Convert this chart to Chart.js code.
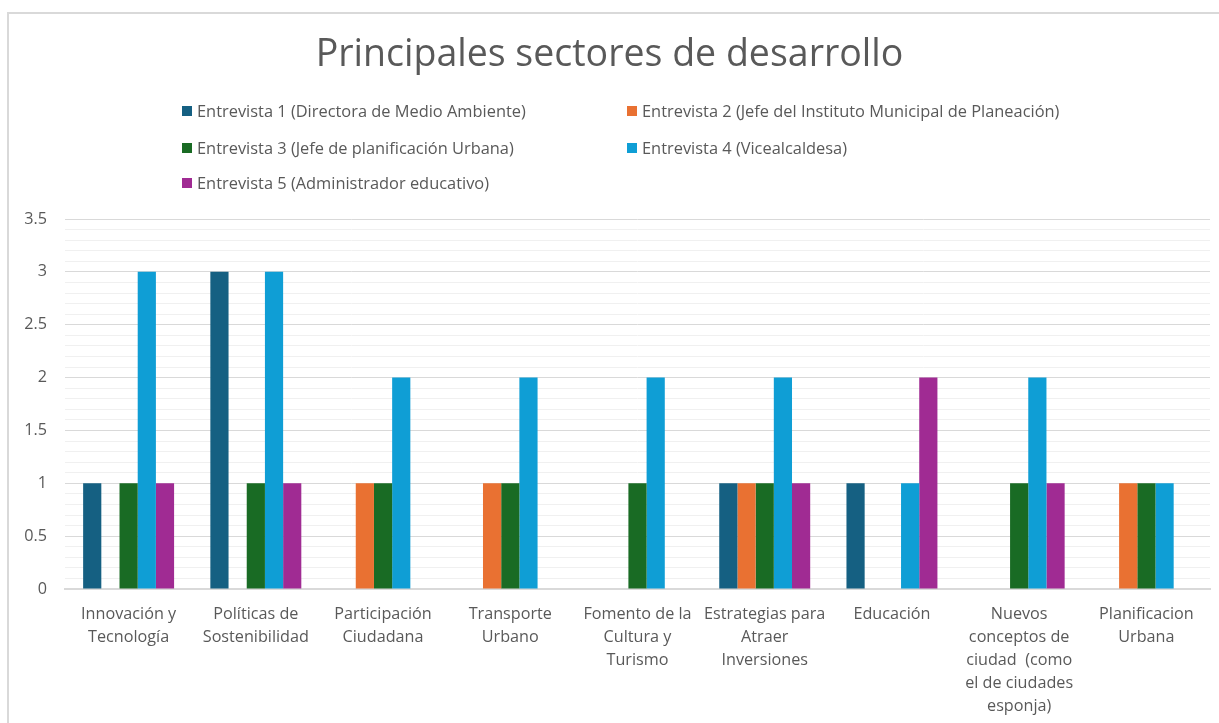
<!DOCTYPE html>
<html>
<head>
<meta charset="utf-8">
<script src="https://cdn.jsdelivr.net/npm/chart.js@4.4.1/dist/chart.umd.min.js"></script>
<style>
    html, body { margin: 0; padding: 0; background: #fff; overflow: hidden; }
    #frame {
        position: absolute; left: 7px; top: 12px;
        width: 1214px; height: 712px;
        border-left: 2px solid #d9d9d9; border-top: 2px solid #d9d9d9;
    }
    #wrap { position: absolute; left: 0; top: 0; width: 1212px; height: 709px; }
</style>
</head>
<body>
<div id="frame"><div id="wrap"><canvas id="myChart"></canvas></div></div>
<script>
const categories = [
    ['Innovación y', 'Tecnología'],
    ['Políticas de', 'Sostenibilidad'],
    ['Participación', 'Ciudadana'],
    ['Transporte', 'Urbano'],
    ['Fomento de la', 'Cultura y', 'Turismo'],
    ['Estrategias para', 'Atraer', 'Inversiones'],
    ['Educación'],
    ['Nuevos', 'conceptos de', 'ciudad  (como', 'el de ciudades', 'esponja)'],
    ['Planificacion', 'Urbana']
];

const seriesNames = [
    'Entrevista 1 (Directora de Medio Ambiente)',
    'Entrevista 2 (Jefe del Instituto Municipal de Planeación)',
    'Entrevista 3 (Jefe de planificación Urbana)',
    'Entrevista 4 (Vicealcaldesa)',
    'Entrevista 5 (Administrador educativo)'
];

const entrevista1 = [1, 3, 0, 0, 0, 1, 1, 0, 0];
const entrevista2 = [0, 0, 1, 1, 0, 1, 0, 0, 1];
const entrevista3 = [1, 1, 1, 1, 1, 1, 0, 1, 1];
const entrevista4 = [3, 3, 2, 2, 2, 2, 1, 2, 1];
const entrevista5 = [1, 1, 0, 0, 0, 1, 2, 1, 0];

const colors = ['#156082', '#e97132', '#196b24', '#0f9ed5', '#a02b93'];

const FONT = "'Open Sans', sans-serif";
const TEXT = '#595959';

// legend drawn in two columns like the original
const legendPlugin = {
    id: 'twoColLegend',
    afterDraw(chart) {
        const ctx = chart.ctx;
        const colX = [173, 618];
        const rowY = [97, 134, 169];
        ctx.save();
        ctx.font = '16.4px ' + FONT;
        ctx.textBaseline = 'middle';
        chart.data.datasets.forEach((ds, i) => {
            const x = colX[i % 2];
            const y = rowY[Math.floor(i / 2)];
            ctx.fillStyle = ds.backgroundColor;
            ctx.fillRect(x, y - 5, 10, 10);
            ctx.fillStyle = TEXT;
            ctx.fillText(ds.label, x + 15, y + 1);
        });
        ctx.restore();
    }
};

const seriesData = [entrevista1, entrevista2, entrevista3, entrevista4, entrevista5];

const ctx = document.getElementById('myChart').getContext('2d');
const myChart = new Chart(ctx, {
    type: 'bar',
    data: {
        labels: categories,
        datasets: seriesNames.map((name, i) => ({
            label: name,
            data: seriesData[i],
            backgroundColor: colors[i],
            barPercentage: 1,
            categoryPercentage: 0.715
        }))
    },
    options: {
        responsive: true,
        maintainAspectRatio: false,
        animation: false,
        layout: { padding: { left: 0, right: 11, top: 0, bottom: 0 } },
        plugins: {
            legend: { display: false },
            tooltip: { enabled: false },
            title: {
                display: true,
                text: 'Principales sectores de desarrollo',
                color: TEXT,
                font: { family: FONT, size: 37.5, weight: 'normal', lineHeight: 1.2 },
                padding: { top: 19, bottom: 141 }
            }
        },
        scales: {
            x: {
                grid: { display: false, drawTicks: false },
                border: { display: true, color: '#d9d9d9', width: 2 },
                ticks: {
                    color: TEXT,
                    font: { family: FONT, size: 16.2, lineHeight: 1.42 },
                    padding: 14,
                    maxRotation: 0,
                    autoSkip: false
                },
                afterFit(scale) { scale.height = 134; }
            },
            y: {
                min: 0,
                max: 3.5,
                border: { display: false },
                grid: {
                    drawTicks: false,
                    color(c) {
                        const v = c.tick.value;
                        return Math.abs(v * 2 - Math.round(v * 2)) < 1e-6 ? '#d9d9d9' : '#f0f0f0';
                    }
                },
                ticks: {
                    stepSize: 0.1,
                    autoSkip: false,
                    color: TEXT,
                    font: { family: FONT, size: 16.2 },
                    padding: 18,
                    callback(v) {
                        if (Math.abs(v * 2 - Math.round(v * 2)) < 1e-6) return String(Math.round(v * 2) / 2);
                        return '';
                    }
                },
                afterFit(scale) { scale.width = 56; }
            }
        }
    },
    plugins: [legendPlugin]
});
</script>
</body>
</html>
